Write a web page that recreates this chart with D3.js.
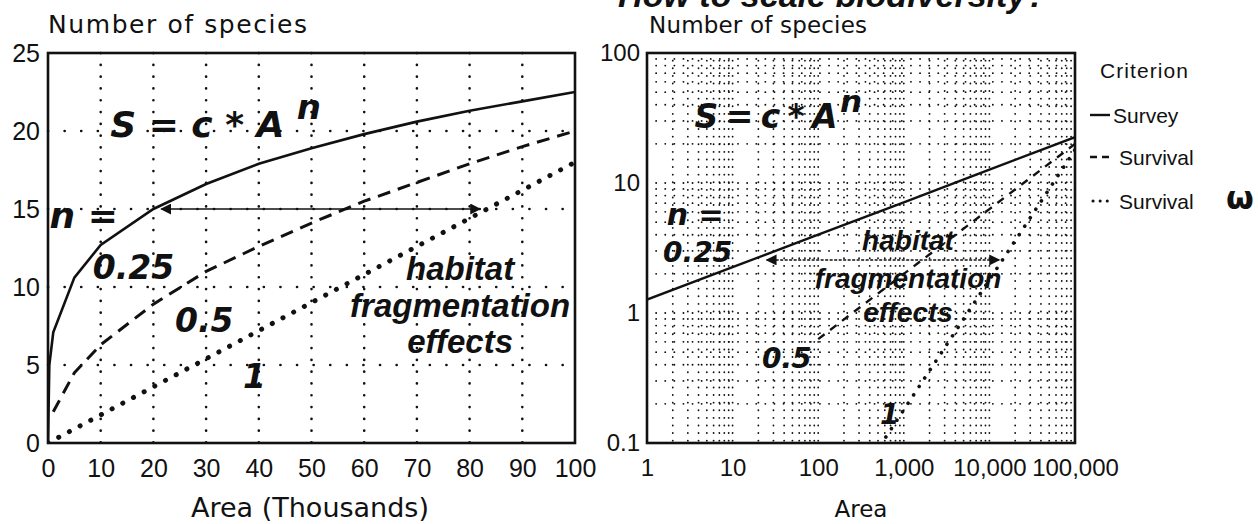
<!DOCTYPE html>
<html>
<head>
<meta charset="utf-8">
<script src="https://cdn.jsdelivr.net/npm/d3@7"></script>
<style>
body { margin: 0; background: #fff; }
svg { display: block; }
.lbl { font-family: "DejaVu Sans", sans-serif; fill: #111; }
.leg { font-family: "Liberation Sans", Arial, sans-serif; fill: #111; }
.eq { font-family: "Liberation Sans", Arial, sans-serif; font-weight: bold; font-style: italic; fill: #111; }
.num { font-family: "DejaVu Sans", sans-serif; font-weight: bold; font-style: italic; fill: #111; }
</style>
</head>
<body>
<div id="chart"></div>
<script>

/*
 * Data
 */

// left panel: area in thousands, linear axes
var areaK       = [0, 0.25, 1, 5, 10, 20, 30, 40, 50, 60, 70, 80, 90, 100];
var surveyLin   = [0, 5.0, 7.1, 10.6, 12.7, 15.0, 16.6, 17.9, 18.9, 19.8, 20.6, 21.3, 21.9, 22.5];
var survivalLin = [null, null, 2.0, 4.5, 6.3, 8.9, 11.0, 12.6, 14.1, 15.5, 16.7, 17.9, 19.0, 20.0];
var survWLin    = [0, 0.05, 0.18, 0.9, 1.8, 3.6, 5.4, 7.2, 9.0, 10.8, 12.6, 14.4, 16.2, 18.0];

// right panel: area in units, log-log axes
var areaU       = [1, 10, 100, 1000, 10000, 100000];
var surveyLog   = [1.27, 2.25, 4.0, 7.1, 12.7, 22.5];
var survivalLog = [null, null, 0.63, 2.0, 6.3, 20];
var survWLog    = [0.00018, 0.0018, 0.018, 0.18, 1.8, 18];

var xTicksLin = [0, 10, 20, 30, 40, 50, 60, 70, 80, 90, 100];
var yTicksLin = [0, 5, 10, 15, 20, 25];
var xTicksLog = [1, 10, 100, 1000, 10000, 100000];
var xLabelsLog = ["1", "10", "100", "1,000", "10,000", "100,000"];
var yTicksLog = [0.1, 1, 10, 100];
var yLabelsLog = ["0.1", "1", "10", "100"];

var legendNames = ["Survey", "Survival", "Survival"];

// habitat fragmentation arrows (area from, area to, species level)
var arrowLin = [21.5, 82, 15];
var arrowLog = [25, 13000, 2.56];


/*
 * Drawing area
 */

var W = 1258, H = 524;
var svg = d3.select("#chart").append("svg")
    .attr("width", W)
    .attr("height", H);

svg.append("rect").attr("width", W).attr("height", H).attr("fill", "#fff");

var left  = {x0: 48,  x1: 575,  y0: 53, y1: 443};
var right = {x0: 647, x1: 1075, y0: 53, y1: 443};

var xL = d3.scaleLinear().domain([0, 100]).range([left.x0, left.x1]);
var yL = d3.scaleLinear().domain([0, 25]).range([left.y1, left.y0]);
var xR = d3.scaleLog().domain([1, 1e5]).range([right.x0, right.x1]);
var yR = d3.scaleLog().domain([0.1, 100]).range([right.y1, right.y0]);

var defs = svg.append("defs");
[["clipL", left], ["clipR", right]].forEach(function(c){
    defs.append("clipPath").attr("id", c[0]).append("rect")
        .attr("x", c[1].x0).attr("y", c[1].y0)
        .attr("width", c[1].x1 - c[1].x0).attr("height", c[1].y1 - c[1].y0);
});

defs.append("marker")
    .attr("id", "ah")
    .attr("viewBox", "0 0 10 10")
    .attr("refX", 9).attr("refY", 5)
    .attr("markerWidth", 11).attr("markerHeight", 11)
    .attr("markerUnits", "userSpaceOnUse")
    .attr("orient", "auto-start-reverse")
    .append("path").attr("d", "M0,0L10,5L0,10z").attr("fill", "#111");


/*
 * Title (cut off at the top edge, like the scan)
 */

svg.append("text")
    .attr("class", "eq")
    .attr("x", 1047).attr("y", 7)
    .attr("text-anchor", "end")
    .attr("font-size", 34)
    .text("How to scale biodiversity?");


/*
 * Annotation helper
 */

function note(g, cls, x, y, txt, size, len, anchor){
    var t = g.append("text").attr("class", cls)
        .attr("x", x).attr("y", y)
        .attr("font-size", size)
        .attr("text-anchor", anchor || "start")
        .text(txt);
    if (len) t.attr("textLength", len);
    return t;
}


/*
 * Left panel
 */

var gL = svg.append("g");

// dotted grid
gL.selectAll(".vgrid").data(xTicksLin.slice(1, -1)).enter().append("line")
    .attr("x1", function(d){ return xL(d); }).attr("x2", function(d){ return xL(d); })
    .attr("y1", left.y0).attr("y2", left.y1)
    .attr("stroke", "#111").attr("stroke-width", 2.6)
    .attr("stroke-linecap", "round").attr("stroke-dasharray", "0.1,11.7");

gL.selectAll(".hgrid").data(yTicksLin.slice(1, -1)).enter().append("line")
    .attr("y1", function(d){ return yL(d); }).attr("y2", function(d){ return yL(d); })
    .attr("x1", left.x0).attr("x2", left.x1)
    .attr("stroke", "#111").attr("stroke-width", 2.6)
    .attr("stroke-linecap", "round").attr("stroke-dasharray", "0.1,16.5");

var lineL = d3.line()
    .defined(function(d){ return d[1] != null; })
    .x(function(d){ return xL(d[0]); })
    .y(function(d){ return yL(d[1]); });

var seriesLin = [surveyLin, survivalLin, survWLin];
var gCurvesL = gL.append("g").attr("clip-path", "url(#clipL)");
seriesLin.forEach(function(s, i){
    var p = gCurvesL.append("path")
        .attr("d", lineL(areaK.map(function(a, j){ return [a, s[j]]; })))
        .attr("fill", "none").attr("stroke", "#111");
    if (i == 0) p.attr("stroke-width", 2.6);
    if (i == 1) p.attr("stroke-width", 3).attr("stroke-dasharray", "13,8");
    if (i == 2) p.attr("stroke-width", 5).attr("stroke-linecap", "round").attr("stroke-dasharray", "0.1,12");
});

gL.append("line")
    .attr("x1", xL(arrowLin[0])).attr("x2", xL(arrowLin[1]))
    .attr("y1", yL(arrowLin[2])).attr("y2", yL(arrowLin[2]))
    .attr("stroke", "#111").attr("stroke-width", 1.6)
    .attr("marker-start", "url(#ah)").attr("marker-end", "url(#ah)");

gL.append("rect")
    .attr("x", left.x0).attr("y", left.y0)
    .attr("width", left.x1 - left.x0).attr("height", left.y1 - left.y0)
    .attr("fill", "none").attr("stroke", "#111").attr("stroke-width", 2.6);

var axLx = gL.append("g")
    .attr("transform", "translate(0," + left.y1 + ")")
    .call(d3.axisBottom(xL).tickValues(xTicksLin).tickSize(0).tickPadding(16));
var axLy = gL.append("g")
    .attr("transform", "translate(" + left.x0 + ",0)")
    .call(d3.axisLeft(yL).tickValues(yTicksLin).tickSize(0).tickPadding(8));

[axLx, axLy].forEach(function(a){
    a.select(".domain").remove();
    a.attr("font-family", "'Liberation Sans', Arial, sans-serif").attr("font-size", 25);
    a.selectAll("text").attr("fill", "#111");
});

gL.append("text").attr("class", "lbl")
    .attr("x", 48).attr("y", 33).attr("font-size", 25)
    .attr("textLength", 259)
    .text("Number of species");

gL.append("text").attr("class", "lbl")
    .attr("x", 310).attr("y", 517).attr("font-size", 27)
    .attr("text-anchor", "middle")
    .text("Area (Thousands)");

note(gL, "num", xL(11.8), yL(19.6), "S = c * A", 36);
note(gL, "num", xL(47.2), yL(20.8), "n", 34);
note(gL, "num", xL(0.3), yL(13.8), "n =", 36);
note(gL, "num", xL(8.5), yL(10.5), "0.25", 33);
note(gL, "num", xL(24.1), yL(7.1), "0.5", 33);
note(gL, "num", xL(37), yL(3.5), "1", 33);
note(gL, "eq", xL(78.2), yL(10.45), "habitat", 33, null, "middle");
note(gL, "eq", xL(78.2), yL(8.1), "fragmentation", 33, null, "middle");
note(gL, "eq", xL(78.2), yL(5.77), "effects", 33, null, "middle");


/*
 * Right panel
 */

var gR = svg.append("g");

var minorX = xR.ticks().filter(function(d){ return d > 1 && d < 1e5; });
var minorY = yR.ticks().filter(function(d){ return d > 0.1 && d < 100; });

gR.selectAll(".vgrid").data(minorX).enter().append("line")
    .attr("x1", function(d){ return xR(d); }).attr("x2", function(d){ return xR(d); })
    .attr("y1", right.y0).attr("y2", right.y1)
    .attr("stroke", "#111").attr("stroke-width", 1.8)
    .attr("stroke-linecap", "round").attr("stroke-dasharray", "0.1,7.5");

gR.selectAll(".hgrid").data(minorY).enter().append("line")
    .attr("y1", function(d){ return yR(d); }).attr("y2", function(d){ return yR(d); })
    .attr("x1", right.x0).attr("x2", right.x1)
    .attr("stroke", "#111").attr("stroke-width", 1.8)
    .attr("stroke-linecap", "round").attr("stroke-dasharray", "0.1,9");

var lineR = d3.line()
    .defined(function(d){ return d[1] != null; })
    .x(function(d){ return xR(d[0]); })
    .y(function(d){ return yR(d[1]); });

var seriesLog = [surveyLog, survivalLog, survWLog];
var gCurvesR = gR.append("g").attr("clip-path", "url(#clipR)");
seriesLog.forEach(function(s, i){
    var p = gCurvesR.append("path")
        .attr("d", lineR(areaU.map(function(a, j){ return [a, s[j]]; })))
        .attr("fill", "none").attr("stroke", "#111");
    if (i == 0) p.attr("stroke-width", 2.4);
    if (i == 1) p.attr("stroke-width", 2.4).attr("stroke-dasharray", "8,7");
    if (i == 2) p.attr("stroke-width", 3.6).attr("stroke-linecap", "round").attr("stroke-dasharray", "0.1,10");
});

gR.append("line")
    .attr("x1", xR(arrowLog[0])).attr("x2", xR(arrowLog[1]))
    .attr("y1", yR(arrowLog[2])).attr("y2", yR(arrowLog[2]))
    .attr("stroke", "#111").attr("stroke-width", 1.6)
    .attr("stroke-dasharray", "3,1.5")
    .attr("marker-start", "url(#ah)").attr("marker-end", "url(#ah)");

gR.append("rect")
    .attr("x", right.x0).attr("y", right.y0)
    .attr("width", right.x1 - right.x0).attr("height", right.y1 - right.y0)
    .attr("fill", "none").attr("stroke", "#111").attr("stroke-width", 2.6);

var axRx = gR.append("g")
    .attr("transform", "translate(0," + right.y1 + ")")
    .call(d3.axisBottom(xR).tickValues(xTicksLog).tickSize(0).tickPadding(16)
        .tickFormat(function(d, i){ return xLabelsLog[i]; }));
var axRy = gR.append("g")
    .attr("transform", "translate(" + right.x0 + ",0)")
    .call(d3.axisLeft(yR).tickValues(yTicksLog).tickSize(0).tickPadding(7)
        .tickFormat(function(d, i){ return yLabelsLog[i]; }));

[axRx, axRy].forEach(function(a){
    a.select(".domain").remove();
    a.attr("font-family", "'Liberation Sans', Arial, sans-serif").attr("font-size", 24);
    a.selectAll("text").attr("fill", "#111");
});

gR.append("text").attr("class", "lbl")
    .attr("x", 649).attr("y", 33).attr("font-size", 23)
    .attr("textLength", 218)
    .text("Number of species");

gR.append("text").attr("class", "lbl")
    .attr("x", 861).attr("y", 517).attr("font-size", 23)
    .attr("text-anchor", "middle")
    .text("Area");

note(gR, "num", xR(3.6), yR(26.5), "S = c * A", 33, 143);
note(gR, "num", xR(180), yR(35), "n", 31);
note(gR, "num", xR(1.7), yR(4.75), "n =", 30);
note(gR, "num", xR(1.54), yR(2.47), "0.25", 28);
note(gR, "num", xR(22), yR(0.38), "0.5", 28);
note(gR, "num", xR(527), yR(0.14), "1", 28);
note(gR, "eq", xR(1120), yR(3.05), "habitat", 28, null, "middle");
note(gR, "eq", xR(1120), yR(1.55), "fragmentation", 28, null, "middle");
note(gR, "eq", xR(1120), yR(0.85), "effects", 28, null, "middle");


/*
 * Legend
 */

var gLeg = svg.append("g");
gLeg.append("text").attr("class", "leg")
    .attr("x", 1100).attr("y", 78).attr("font-size", 21)
    .attr("textLength", 88)
    .text("Criterion");

var legY = [115, 157, 201];
legendNames.forEach(function(name, i){
    var ln = gLeg.append("line")
        .attr("x1", 1090).attr("x2", 1110)
        .attr("y1", legY[i]).attr("y2", legY[i])
        .attr("stroke", "#111");
    if (i == 0) ln.attr("stroke-width", 2.4);
    if (i == 1) ln.attr("stroke-width", 2.4).attr("stroke-dasharray", "7,5").attr("x2", 1114);
    if (i == 2) ln.attr("stroke-width", 3).attr("stroke-linecap", "round").attr("stroke-dasharray", "0.1,7").attr("x1", 1093).attr("x2", 1112);

    var t = gLeg.append("text").attr("class", "leg")
        .attr("x", i == 0 ? 1113 : 1119).attr("y", legY[i] + 8)
        .attr("font-size", 21)
        .text(name);
    if (i == 2) {
        t.append("tspan").attr("x", 1226).attr("font-weight", "bold")
            .attr("font-family", "'DejaVu Sans', sans-serif")
            .attr("font-size", 32).text("ω");
    }
});

</script>
</body>
</html>
